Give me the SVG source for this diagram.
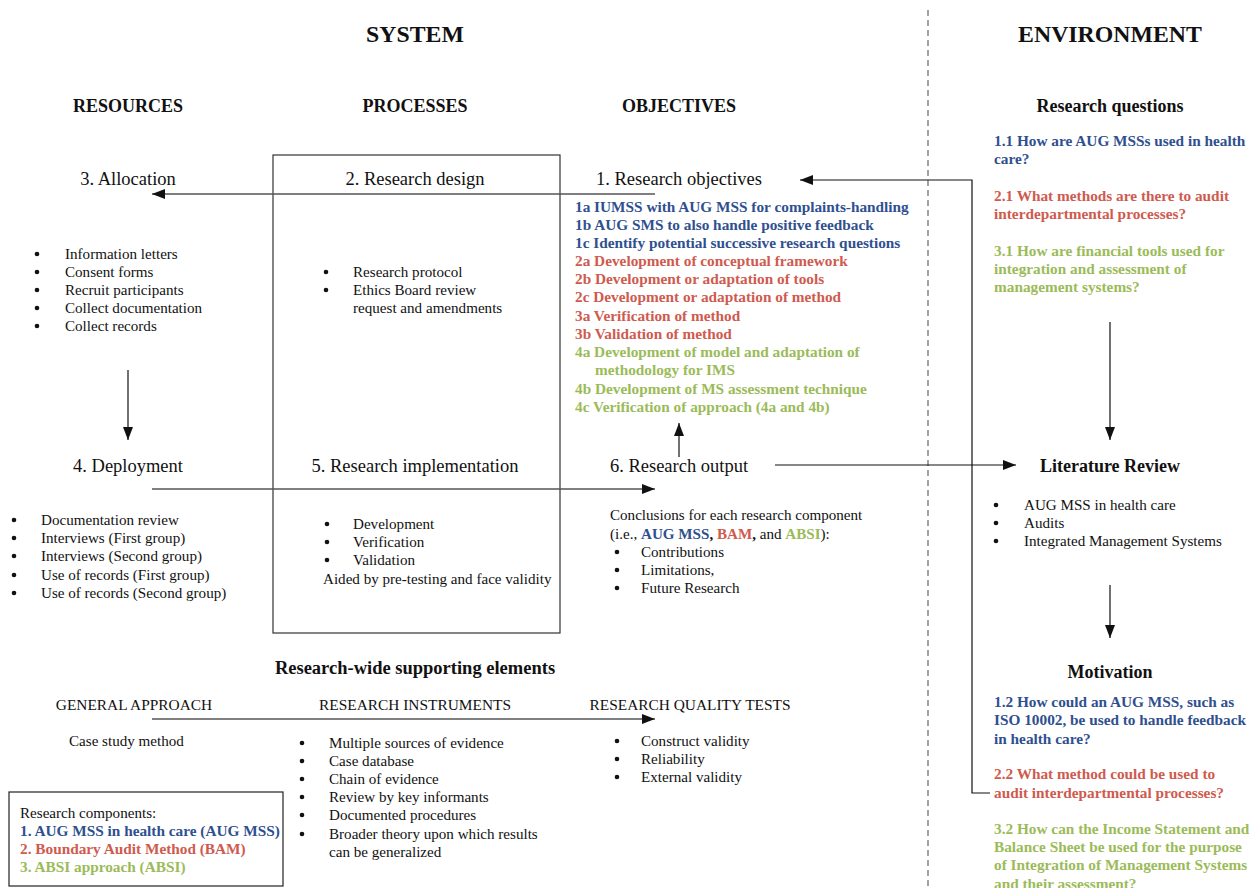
<svg xmlns="http://www.w3.org/2000/svg" width="1256" height="888" viewBox="0 0 1256 888">
  <style>
    text { font-family: "Liberation Serif", "Times New Roman", serif; fill: #111; }
    .title { font-size: 23.8px; font-weight: bold; text-anchor: middle; }
    .head { font-size: 18px; font-weight: bold; text-anchor: middle; }
    .stage { font-size: 18.5px; text-anchor: middle; }
    .body { font-size: 15.1px; }
    .cap { font-size: 15.4px; text-anchor: middle; }
    .b { font-weight: bold; }
    .obj { font-size: 15.3px; font-weight: bold; }
    .blue { fill: #2F5090; }
    .red { fill: #CF5A4E; }
    .green { fill: #9BBB59; }
    .dot { fill: #111; }
    .rule { stroke: #555; stroke-width: 1.3; fill: none; }
    .arrow { stroke: #111; stroke-width: 1.2; fill: none; }
  </style>
  <defs>
    <marker id="tip" markerUnits="userSpaceOnUse" markerWidth="14" markerHeight="10" refX="13" refY="5" orient="auto">
      <path d="M0,0 L13,5 L0,10 Z" fill="#111"/>
    </marker>
  </defs>
  <rect width="1256" height="888" fill="#fff"/>

  <!-- system / environment boundary -->
  <line x1="928" y1="10" x2="928" y2="888" stroke="#666" stroke-width="1.2" stroke-dasharray="6 4"/>

  <g id="titles">
    <text class="title" x="415" y="42">SYSTEM</text>
    <text class="title" x="1110" y="42">ENVIRONMENT</text>
    <text class="head" x="128" y="112">RESOURCES</text>
    <text class="head" x="415" y="112">PROCESSES</text>
    <text class="head" x="679" y="112">OBJECTIVES</text>
  </g>

  <!-- processes frame -->
  <rect id="processes-frame" x="273" y="155" width="287" height="478" fill="none" stroke="#333" stroke-width="1.2"/>

  <g id="connectors">
    <line class="rule" x1="655" y1="194" x2="152" y2="194" marker-end="url(#tip)"/>
    <line class="rule" x1="152" y1="489" x2="655" y2="489" marker-end="url(#tip)"/>
    <line class="rule" x1="152" y1="719" x2="655" y2="719" marker-end="url(#tip)"/>
    <line class="arrow" x1="128" y1="370" x2="128" y2="440" marker-end="url(#tip)"/>
    <line class="arrow" x1="679" y1="457" x2="679" y2="423" marker-end="url(#tip)"/>
    <line class="arrow" x1="775" y1="465" x2="1016" y2="465" marker-end="url(#tip)"/>
    <line class="arrow" x1="1110" y1="322" x2="1110" y2="440" marker-end="url(#tip)"/>
    <line class="arrow" x1="1110" y1="585" x2="1110" y2="638" marker-end="url(#tip)"/>
    <path class="arrow" d="M990,793 H972 V180 H800" marker-end="url(#tip)"/>
  </g>

  <g id="allocation">
    <text class="stage" x="128" y="185">3. Allocation</text>
    <g class="body">
      <circle class="dot" cx="37" cy="254" r="2.3"/><text x="65" y="259">Information letters</text>
      <circle class="dot" cx="37" cy="272" r="2.3"/><text x="65" y="277">Consent forms</text>
      <circle class="dot" cx="37" cy="290" r="2.3"/><text x="65" y="295">Recruit participants</text>
      <circle class="dot" cx="37" cy="308" r="2.3"/><text x="65" y="313">Collect documentation</text>
      <circle class="dot" cx="37" cy="326" r="2.3"/><text x="65" y="331">Collect records</text>
    </g>
  </g>

  <g id="research-design">
    <text class="stage" x="415" y="185">2. Research design</text>
    <g class="body">
      <circle class="dot" cx="326" cy="272" r="2.3"/><text x="353" y="277">Research protocol</text>
      <circle class="dot" cx="326" cy="290" r="2.3"/><text x="353" y="295">Ethics Board review</text>
      <text x="353" y="313">request and amendments</text>
    </g>
  </g>

  <g id="research-objectives">
    <text class="stage" x="679" y="185">1. Research objectives</text>
    <g class="obj">
      <text class="blue" x="575" y="212">1a IUMSS with AUG MSS for complaints-handling</text>
      <text class="blue" x="575" y="230">1b AUG SMS to also handle positive feedback</text>
      <text class="blue" x="575" y="248">1c Identify potential successive research questions</text>
      <text class="red" x="575" y="266">2a Development of conceptual framework</text>
      <text class="red" x="575" y="284">2b Development or adaptation of tools</text>
      <text class="red" x="575" y="302">2c Development or adaptation of method</text>
      <text class="red" x="575" y="321">3a Verification of method</text>
      <text class="red" x="575" y="339">3b Validation of method</text>
      <text class="green" x="575" y="357">4a Development of model and adaptation of</text>
      <text class="green" x="595" y="375">methodology for IMS</text>
      <text class="green" x="575" y="394">4b Development of MS assessment technique</text>
      <text class="green" x="575" y="412">4c Verification of approach (4a and 4b)</text>
    </g>
  </g>

  <g id="deployment">
    <text class="stage" x="128" y="472">4. Deployment</text>
    <g class="body">
      <circle class="dot" cx="14" cy="520" r="2.3"/><text x="41" y="525">Documentation review</text>
      <circle class="dot" cx="14" cy="538" r="2.3"/><text x="41" y="543">Interviews (First group)</text>
      <circle class="dot" cx="14" cy="556" r="2.3"/><text x="41" y="561">Interviews (Second group)</text>
      <circle class="dot" cx="14" cy="575" r="2.3"/><text x="41" y="580">Use of records (First group)</text>
      <circle class="dot" cx="14" cy="593" r="2.3"/><text x="41" y="598">Use of records (Second group)</text>
    </g>
  </g>

  <g id="research-implementation">
    <text class="stage" x="415" y="472">5. Research implementation</text>
    <g class="body">
      <circle class="dot" cx="327" cy="524" r="2.3"/><text x="353" y="529">Development</text>
      <circle class="dot" cx="327" cy="542" r="2.3"/><text x="353" y="547">Verification</text>
      <circle class="dot" cx="327" cy="560" r="2.3"/><text x="353" y="565">Validation</text>
      <text x="323" y="584">Aided by pre-testing and face validity</text>
    </g>
  </g>

  <g id="research-output">
    <text class="stage" x="679" y="472">6. Research output</text>
    <g class="body">
      <text x="610" y="520">Conclusions for each research component</text>
      <text x="610" y="539">(i.e., <tspan class="b blue">AUG MSS</tspan><tspan class="b">,</tspan> <tspan class="b red">BAM</tspan><tspan class="b">,</tspan> and <tspan class="b green">ABSI</tspan>):</text>
      <circle class="dot" cx="617" cy="552" r="2.3"/><text x="641" y="557">Contributions</text>
      <circle class="dot" cx="617" cy="570" r="2.3"/><text x="641" y="575">Limitations,</text>
      <circle class="dot" cx="617" cy="588" r="2.3"/><text x="641" y="593">Future Research</text>
    </g>
  </g>

  <g id="research-questions">
    <text class="head" x="1110" y="112">Research questions</text>
    <g class="obj">
      <text class="blue" x="994" y="146">1.1 How are AUG MSSs used in health</text>
      <text class="blue" x="994" y="164">care?</text>
      <text class="red" x="994" y="201">2.1 What methods are there to audit</text>
      <text class="red" x="994" y="219">interdepartmental processes?</text>
      <text class="green" x="994" y="256">3.1 How are financial tools used for</text>
      <text class="green" x="994" y="274">integration and assessment of</text>
      <text class="green" x="994" y="292">management systems?</text>
    </g>
  </g>

  <g id="literature-review">
    <text class="head" x="1110" y="472">Literature Review</text>
    <g class="body">
      <circle class="dot" cx="996" cy="505" r="2.3"/><text x="1024" y="510">AUG MSS in health care</text>
      <circle class="dot" cx="996" cy="523" r="2.3"/><text x="1024" y="528">Audits</text>
      <circle class="dot" cx="996" cy="541" r="2.3"/><text x="1024" y="546">Integrated Management Systems</text>
    </g>
  </g>

  <g id="motivation">
    <text class="head" x="1110" y="678">Motivation</text>
    <g class="obj">
      <text class="blue" x="994" y="707">1.2 How could an AUG MSS, such as</text>
      <text class="blue" x="994" y="725">ISO 10002, be used to handle feedback</text>
      <text class="blue" x="994" y="744">in health care?</text>
      <text class="red" x="994" y="779">2.2 What method could be used to</text>
      <text class="red" x="994" y="798">audit interdepartmental processes?</text>
      <text class="green" x="994" y="834">3.2 How can the Income Statement and</text>
      <text class="green" x="994" y="852">Balance Sheet be used for the purpose</text>
      <text class="green" x="994" y="870">of Integration of Management Systems</text>
      <text class="green" x="994" y="889">and their assessment?</text>
    </g>
  </g>

  <g id="supporting-elements">
    <text x="415" y="674" style="font-size:18.5px;font-weight:bold;text-anchor:middle">Research-wide supporting elements</text>
    <text class="cap" x="134" y="710">GENERAL APPROACH</text>
    <text class="cap" x="415" y="710">RESEARCH INSTRUMENTS</text>
    <text class="cap" x="690" y="710">RESEARCH QUALITY TESTS</text>
  </g>

  <g id="general-approach">
    <text class="body" x="69" y="746">Case study method</text>
  </g>

  <g id="research-instruments" class="body">
    <circle class="dot" cx="302" cy="743" r="2.3"/><text x="329" y="748">Multiple sources of evidence</text>
    <circle class="dot" cx="302" cy="761" r="2.3"/><text x="329" y="766">Case database</text>
    <circle class="dot" cx="302" cy="779" r="2.3"/><text x="329" y="784">Chain of evidence</text>
    <circle class="dot" cx="302" cy="797" r="2.3"/><text x="329" y="802">Review by key informants</text>
    <circle class="dot" cx="302" cy="815" r="2.3"/><text x="329" y="820">Documented procedures</text>
    <circle class="dot" cx="302" cy="834" r="2.3"/><text x="329" y="839">Broader theory upon which results</text>
    <text x="329" y="857">can be generalized</text>
  </g>

  <g id="research-quality-tests" class="body">
    <circle class="dot" cx="617" cy="741" r="2.3"/><text x="641" y="746">Construct validity</text>
    <circle class="dot" cx="617" cy="759" r="2.3"/><text x="641" y="764">Reliability</text>
    <circle class="dot" cx="617" cy="777" r="2.3"/><text x="641" y="782">External validity</text>
  </g>

  <g id="legend">
    <rect x="9" y="792" width="274" height="94" fill="none" stroke="#222" stroke-width="1.2"/>
    <text class="body" x="20" y="818">Research components:</text>
    <text class="obj blue" x="20" y="836">1. AUG MSS in health care (AUG MSS)</text>
    <text class="obj red" x="20" y="854">2. Boundary Audit Method (BAM)</text>
    <text class="obj green" x="20" y="872">3. ABSI approach (ABSI)</text>
  </g>
</svg>
